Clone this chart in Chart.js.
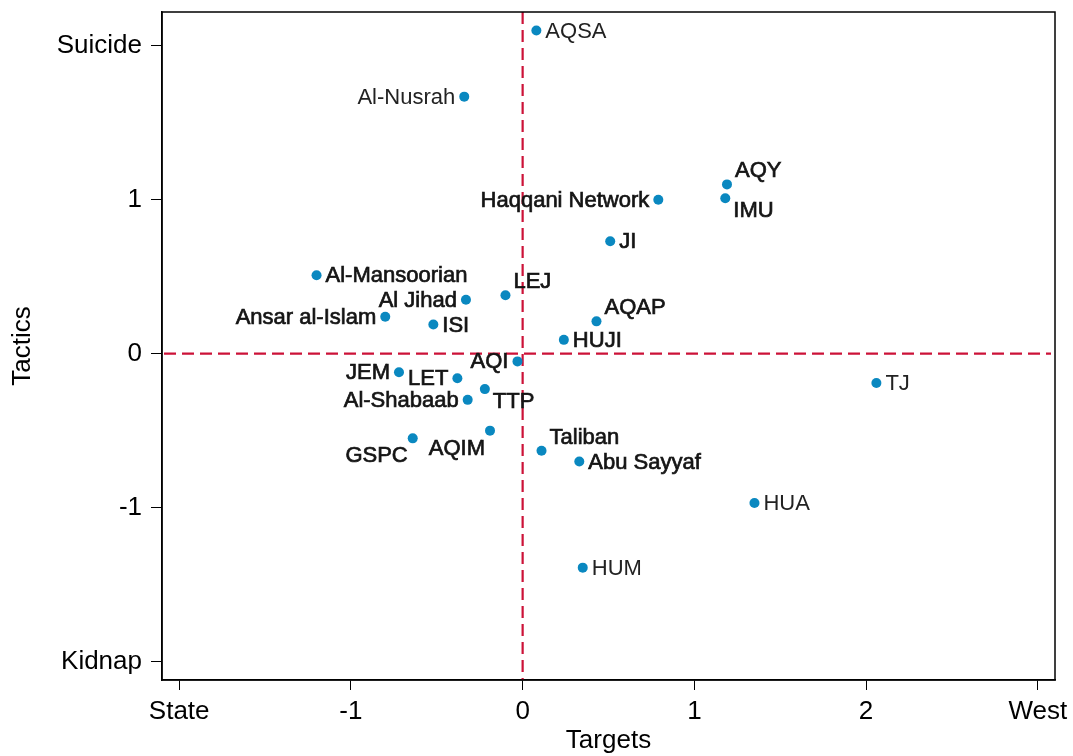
<!DOCTYPE html>
<html><head><meta charset="utf-8">
<script src="https://cdn.jsdelivr.net/npm/chart.js@4/dist/chart.umd.min.js"></script>
<style>html,body{margin:0;padding:0;background:#fff;} #wrap{width:1073px;height:756px;}</style>
</head><body><div id="wrap"><canvas id="c" width="1073" height="756"></canvas></div>
<script>
const groups = ['AQSA','Al-Nusrah','AQY','IMU','Haqqani Network','JI','Al-Mansoorian','LEJ','Al Jihad','Ansar al-Islam','ISI','AQAP','HUJI','AQI','JEM','LET','TTP','Al-Shabaab','AQIM','GSPC','Taliban','Abu Sayyaf','TJ','HUA','HUM'];
const targets = [0.08,-0.34,1.19,1.18,0.79,0.51,-1.20,-0.10,-0.33,-0.80,-0.52,0.43,0.24,-0.03,-0.72,-0.38,-0.22,-0.32,-0.19,-0.64,0.11,0.33,2.06,1.35,0.35];
const tactics = [2.10,1.67,1.10,1.01,1.00,0.73,0.51,0.38,0.35,0.24,0.19,0.21,0.09,-0.05,-0.12,-0.16,-0.23,-0.30,-0.50,-0.55,-0.63,-0.70,-0.19,-0.97,-1.39];
const xTickValues = [-2,-1,0,1,2,3];
const xTickLabels = ['State','-1','0','1','2','West'];
const yTickValues = [-2,-1,0,1,2];
const yTickLabels = ['Kidnap','-1','0','1','Suicide'];
const refX = 0, refY = 0;

// label placement (style): r=right, l=left, ur=upper right, lr=lower right, ll=lower left
const labelPos = ['r','l','ur','lr','l','r','r','ur','l','l','r','ur','r','l','l','l','lr','l','ll','ll','ur','r','r','r','r'];
const lightLabels = ['AQSA','Al-Nusrah','TJ','HUA','HUM'];

const FONT = "'Liberation Sans', Arial, Helvetica, sans-serif";

const refLines = {
  id:'refLines',
  beforeDatasetsDraw(chart){
    const {ctx, chartArea:a, scales:{x,y}} = chart;
    ctx.save();
    ctx.strokeStyle = '#cc1238';
    ctx.lineWidth = 2.2;
    ctx.setLineDash([12,6]);
    const px = x.getPixelForValue(refX);
    ctx.beginPath(); ctx.moveTo(px, a.top); ctx.lineTo(px, a.bottom); ctx.stroke();
    const py = y.getPixelForValue(refY);
    ctx.beginPath(); ctx.moveTo(a.left+2, py); ctx.lineTo(a.right-4, py); ctx.stroke();
    ctx.restore();
  }
};
const frame = {
  id:'frame',
  afterDraw(chart){
    const {ctx, chartArea:a} = chart;
    ctx.save();
    ctx.strokeStyle = '#000'; ctx.lineWidth = 1.5;
    ctx.strokeRect(a.left, a.top, a.right-a.left, a.bottom-a.top);
    ctx.restore();
  }
};
const pointLabels = {
  id:'pointLabels',
  afterDatasetsDraw(chart){
    const {ctx} = chart;
    const meta = chart.getDatasetMeta(0);
    ctx.save();
    ctx.font = '22px ' + FONT;
    ctx.textBaseline = 'middle';
    meta.data.forEach((pt,i)=>{
      const name = groups[i];
      const pos = labelPos[i];
      let tx = pt.x, ty = pt.y, align = 'left';
      if (pos==='r'){ tx += 9; ty += 1; }
      else if (pos==='l'){ tx -= 9; ty += 1; align='right'; }
      else if (pos==='ur'){ tx += 8; ty -= 13; }
      else if (pos==='lr'){ tx += 8; ty += 13; }
      else if (pos==='ll'){ tx -= 5; ty += 18; align='right'; }
      ctx.textAlign = align;
      const light = lightLabels.includes(name);
      ctx.fillStyle = light ? '#222' : '#151515';
      ctx.fillText(name, tx, ty);
      if (!light){
        ctx.strokeStyle = '#151515'; ctx.lineWidth = 0.7;
        ctx.strokeText(name, tx, ty);
      }
    });
    ctx.restore();
  }
};

const ctx = document.getElementById('c').getContext('2d');
new Chart(ctx, {
  type:'scatter',
  data:{datasets:[{
    data: groups.map((g,i)=>({x:targets[i], y:tactics[i]})),
    backgroundColor:'#0a88c0', borderWidth:0, pointRadius:5, pointHoverRadius:5
  }]},
  options:{
    responsive:false, animation:false, devicePixelRatio:1,
    layout:{padding:{top:12,right:18,left:0,bottom:0}},
    plugins:{legend:{display:false}, tooltip:{enabled:false}},
    scales:{
      x:{
        type:'linear', min:-2.1, max:3.1,
        afterBuildTicks: s=>{ s.ticks = xTickValues.map(v=>({value:v})); },
        ticks:{callback:(v)=>xTickLabels[xTickValues.indexOf(v)], font:{family:FONT,size:26}, color:'#000', padding:6, maxRotation:0, autoSkip:false},
        grid:{drawOnChartArea:false, drawTicks:true, tickLength:10, color:'#000', lineWidth:1},
        border:{display:true, color:'#000', width:1.5},
        title:{display:true, text:'Targets', font:{family:FONT,size:26}, color:'#000', padding:{top:0,bottom:0}},
        afterFit: s=>{ s.height = 76; s.paddingLeft = 0; s.paddingRight = 0; }
      },
      y:{
        type:'linear', min:-2.12, max:2.22,
        afterBuildTicks: s=>{ s.ticks = yTickValues.map(v=>({value:v})); },
        ticks:{callback:(v)=>yTickLabels[yTickValues.indexOf(v)], font:{family:FONT,size:26}, color:'#000', padding:9, autoSkip:false},
        grid:{drawOnChartArea:false, drawTicks:true, tickLength:11, color:'#000', lineWidth:1},
        border:{display:true, color:'#000', width:1.5},
        title:{display:true, text:'Tactics', font:{family:FONT,size:26}, color:'#000', padding:{top:7,bottom:0}},
        afterFit: s=>{ s.width = 162; s.paddingTop = 0; s.paddingBottom = 0; }
      }
    }
  },
  plugins:[refLines, pointLabels, frame]
});
</script>
</body></html>
